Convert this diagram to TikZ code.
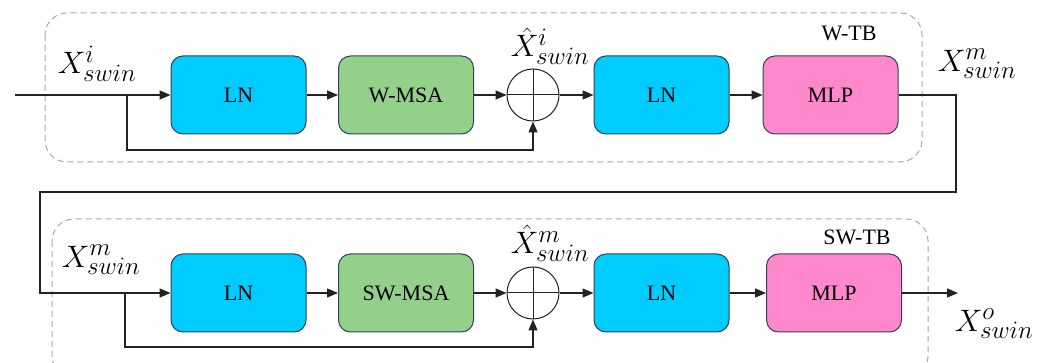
\documentclass[tikz,border=0pt]{standalone}
\usepackage{fix-cm}
\usepackage{fontspec}
\setmainfont{Liberation Serif}
\DeclareMathSizes{31}{31}{25}{18}
\usetikzlibrary{arrows.meta}
\definecolor{lncol}{HTML}{00CCFF}
\definecolor{msacol}{HTML}{93D18B}
\definecolor{mlpcol}{HTML}{FF88CC}
\definecolor{bordercol}{HTML}{2E4258}
\definecolor{grpcol}{HTML}{A8A8A8}
\definecolor{linecol}{HTML}{222222}
\begin{document}
\begin{tikzpicture}[x=1pt,y=-1pt,
 blk/.style={draw=bordercol, line width=1pt, rounded corners=12pt, minimum width=135pt, minimum height=78pt, inner sep=0pt, font=\fontsize{22}{26}\selectfont},
 grp/.style={draw=grpcol, dash pattern=on 6pt off 4pt, rounded corners=22pt, line width=1pt},
 arr/.style={draw=linecol, line width=1.3pt, -{Triangle[length=11pt,width=9pt]}},
 sumnode/.style={circle, draw=linecol, line width=1pt, minimum size=52pt, inner sep=0pt,
   path picture={\draw[line width=1pt] (path picture bounding box.north) -- (path picture bounding box.south) (path picture bounding box.west) -- (path picture bounding box.east);}},
 lbl/.style={font=\fontsize{31}{36}\selectfont, inner sep=0pt},
 grplbl/.style={font=\fontsize{22}{26}\selectfont, inner sep=0pt}]
\useasboundingbox (0,0) rectangle (1053,363);
% groups
\draw[grp] (45,13) rectangle (922,162);
\draw[grp] (52,219) rectangle (928,378);
\node[grplbl] (wtb) at (849,33) {W-TB};
\node[grplbl] (swtb) at (857,237) {SW-TB};
% row 1
\node[blk, fill=lncol] (ln1) at (238.5,95) {LN};
\node[blk, fill=msacol] (msa1) at (406,95) {W-MSA};
\node[sumnode] (s1) at (533,95) {};
\node[blk, fill=lncol] (ln2) at (661.5,95) {LN};
\node[blk, fill=mlpcol] (mlp1) at (830.5,95) {MLP};
% row 2
\node[blk, fill=lncol] (ln3) at (238.5,293) {LN};
\node[blk, fill=msacol] (msa2) at (406,293) {SW-MSA};
\node[sumnode] (s2) at (533,293) {};
\node[blk, fill=lncol] (ln4) at (661.5,293) {LN};
\node[blk, fill=mlpcol] (mlp2) at (834,293) {MLP};
% labels
\node[lbl] (xi) at (97,64) {$X^{i}_{swin}$};
\node[lbl] (xhi) at (550,46) {$\hat{X}^{i}_{swin}$};
\node[lbl] (xm1) at (977,64) {$X^{m}_{swin}$};
\node[lbl] (xm2) at (101,260) {$X^{m}_{swin}$};
\node[lbl] (xhm) at (550,243) {$\hat{X}^{m}_{swin}$};
\node[lbl] (xo) at (994,324) {$X^{o}_{swin}$};
% coordinates
\coordinate (in) at (15,95);
\coordinate (b1) at (127,95);
\coordinate (b2) at (125,293);
\coordinate (out) at (958,293);
% connectors row 1
\draw[arr] (in) -- (ln1);
\draw[arr] (ln1) -- (msa1);
\draw[arr] (msa1) -- (s1);
\draw[arr] (s1) -- (ln2);
\draw[arr] (ln2) -- (mlp1);
\draw[arr] (b1) -- (127,150) -| (s1.south);
% link
\draw[arr] (mlp1.east) -- (956,95) -- (956,192) -- (40,192) -- (40,293) -- (ln3.west);
% connectors row 2
\draw[arr] (ln3) -- (msa2);
\draw[arr] (msa2) -- (s2);
\draw[arr] (s2) -- (ln4);
\draw[arr] (ln4) -- (mlp2);
\draw[arr] (b2) -- (125,347) -| (s2.south);
\draw[arr] (mlp2) -- (out);
\end{tikzpicture}
\end{document}
